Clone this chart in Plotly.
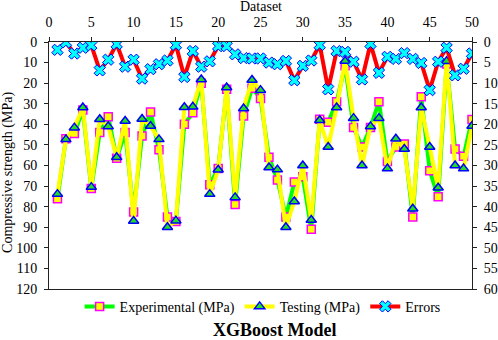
import plotly.graph_objects as go

dataset = list(range(1, 51))
experimental = [76.2, 47, 44.4, 33, 71.2, 44, 36.3, 56.5, 44, 82.6,
                45.7, 34, 52.4, 85, 87.2, 40, 34.4, 20, 69.4, 61.4,
                23, 79, 36, 22.5, 27.4, 56, 67, 85, 68, 65.5,
                91, 37.5, 39, 29, 11.5, 41.5, 51, 41.5, 29, 58,
                51, 49.5, 85, 26.6, 62.6, 75.2, 10.7, 52, 55.5, 37.6]
testing = [73.9, 47.3, 41.6, 31.8, 70.5, 37.5, 41, 56, 38.4, 87,
           37.4, 40.8, 47.3, 90, 86.8, 31.7, 31.5, 18.2, 73.9, 62.1,
           22.1, 75.5, 32.3, 18.5, 23.4, 61, 62, 90, 77.5, 60,
           86.5, 38, 51, 31.8, 9.2, 37, 60, 41, 37, 61.5,
           47, 52, 81, 31.8, 51, 70.8, 9.3, 60, 61.5, 40.8]
errors = [1.9, 0.1, 2.8, 1.4, 0.8, 6.9, 4.3, 0.5, 6, 4.3,
          8.9, 6.6, 5.4, 4.5, 0.7, 8.5, 2.2, 6, 4.7, 1,
          1, 3, 3.9, 4, 4, 5, 5.4, 4.6, 9.3, 5.8,
          4.5, 0.7, 11.5, 2.2, 2.4, 4.8, 9.1, 0.4, 7.5, 3.6,
          4.1, 2.7, 4.1, 5.1, 11.7, 4.8, 1.4, 8.1, 6.5, 2.8]

FONT = "Liberation Serif, Times New Roman, serif"

fig = go.Figure()
fig.add_trace(go.Scatter(
    x=dataset, y=experimental, name="Experimental (MPa)", mode="lines+markers",
    line=dict(color="#00FF00", width=4),
    marker=dict(symbol="square", size=8, color="#FFFF00",
                line=dict(color="#FF00FF", width=1.5)),
))
fig.add_trace(go.Scatter(
    x=dataset, y=testing, name="Testing (MPa)", mode="lines+markers",
    line=dict(color="#FFFF00", width=4),
    marker=dict(symbol="triangle-up", size=9, color="#22DD22",
                line=dict(color="#0000FF", width=1.5)),
))
fig.add_trace(go.Scatter(
    x=dataset, y=errors, name="Errors", mode="lines+markers", yaxis="y2",
    line=dict(color="#FF0000", width=4),
    marker=dict(symbol="x", size=10, color="#00FFFF",
                line=dict(color="#0000FF", width=1)),
))

axis_common = dict(showline=True, linecolor="#222", linewidth=1, ticks="outside",
                   ticklen=4, tickcolor="#222", showgrid=False, zeroline=False,
                   automargin=False,
                   tickfont=dict(family=FONT, size=14, color="black"))

fig.update_layout(
    width=498, height=340,
    margin=dict(l=49, r=26, t=42, b=51),
    paper_bgcolor="white", plot_bgcolor="white",
    font=dict(family=FONT, size=14, color="black"),
    xaxis=dict(side="top", range=[0, 50], dtick=5, tick0=0, mirror=True,
               ticklabelstandoff=4, **axis_common),
    yaxis=dict(range=[120, 0], dtick=10, mirror=True, ticklabelstandoff=4, **axis_common),
    yaxis2=dict(range=[60, 0], dtick=5, overlaying="y", side="right",
                ticklabelstandoff=4, **axis_common),
    legend=dict(orientation="h", x=0.505, xanchor="center", y=-0.072, yanchor="middle",
                font=dict(family=FONT, size=14), bgcolor="rgba(0,0,0,0)"),
    showlegend=True,
    annotations=[
        dict(text="Dataset", xref="paper", yref="paper", x=0.5, y=1.145,
             xanchor="center", yanchor="middle", showarrow=False,
             font=dict(family=FONT, size=14, color="black")),
        dict(text="Compressive strength (MPa)", xref="paper", yref="paper",
             x=-0.097, y=0.474, xanchor="center", yanchor="middle", textangle=-90,
             showarrow=False, font=dict(family=FONT, size=14, color="black")),
        dict(text="<b>XGBoost Model</b>", xref="paper", yref="paper",
             x=0.535, y=-0.165, xanchor="center", yanchor="middle",
             showarrow=False, font=dict(family=FONT, size=18, color="black")),
    ],
)

fig.write_html("out.html",
               config={"displayModeBar": False},
               post_script="document.body.style.margin='0';document.body.style.overflow='hidden';")
